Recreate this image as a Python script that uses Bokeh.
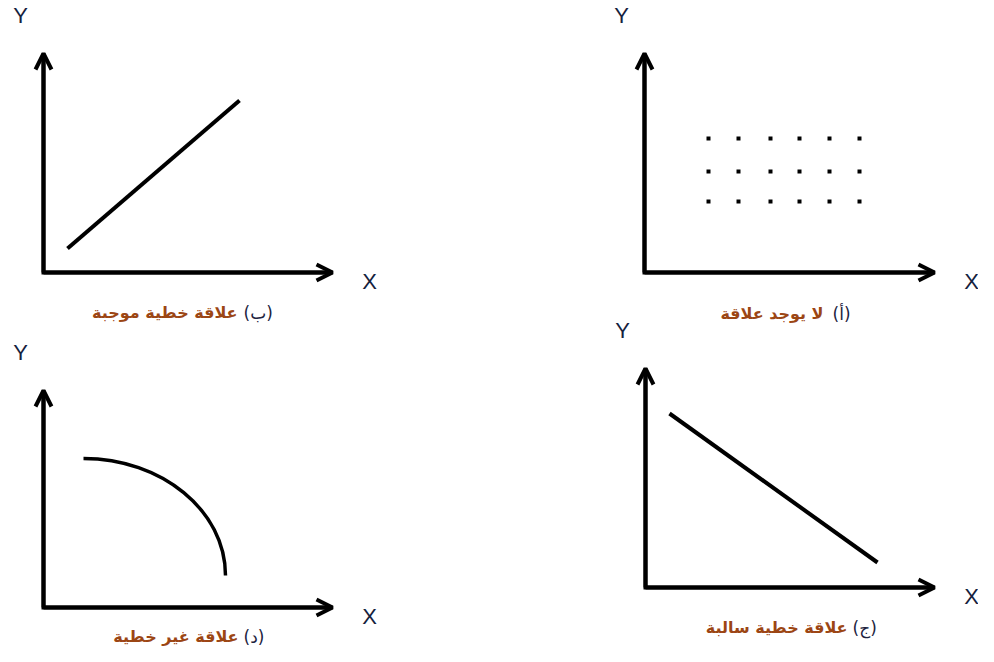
from bokeh.plotting import figure
from bokeh.models import Range1d, Arrow, OpenHead
from bokeh.core.properties import value
from bokeh.embed import file_html
from bokeh.resources import INLINE

# ---------------- data (panel-local units; origin = axes corner) ----------------
panels = ["A", "B", "C", "D"]            # A: no relation, B: positive, C: negative, D: non-linear
label_letters = ["(أ)", "(ب)", "(ج)", "(د)"]
label_texts = ["لا يوجد علاقة", "علاقة خطية موجبة", "علاقة خطية سالبة", "علاقة غير خطية"]

axis_x_len = [290, 289, 289, 289]
axis_y_len = [219, 219, 219, 217]

# (A) no relationship: grid of points
dots_x = [64, 94, 126, 155, 185, 215]
dots_y = [134, 101, 71]

# (B) positive linear
pos_x = [24, 196]
pos_y = [24, 172]

# (C) negative linear
neg_x = [24, 232]
neg_y = [174, 25]

# (D) non-linear curve (cubic bezier: start, control1, control2, end)
curve_x = [40, 118, 182, 182]
curve_y = [149, 149, 97, 32]

# ---------------- layout ----------------
W, H = 978, 646
origin_x = [644, 43, 645, 43]
origin_y = [374, 374, 59, 39]
label_split_l = [188, 200, 207, 200]   # left edge of letter label
label_split_r = [179, 194, 202, 195]   # right edge of text label
label_y = [-41, -40, -40, -29]

AX_W = 4
INK = "black"
BROWN = "#9c4614"
NAVY = "#1c2340"
LABEL_COLOR = "#14213d"

p = figure(width=W, height=H, output_backend="svg", toolbar_location=None,
           x_range=Range1d(0, W), y_range=Range1d(0, H),
           min_border=0, outline_line_color=None)
p.axis.visible = False
p.grid.visible = False
p.background_fill_color = "white"
p.border_fill_color = "white"

for i in range(4):
    ox, oy = origin_x[i], origin_y[i]
    lx, ly = axis_x_len[i], axis_y_len[i]
    # axes corner
    p.line([ox, ox, ox + lx], [oy + ly, oy, oy], line_width=AX_W, line_color=INK,
           line_join="miter")
    for (xs, ys, xe, ye) in [(ox, oy, ox, oy + ly), (ox, oy, ox + lx, oy)]:
        p.add_layout(Arrow(end=OpenHead(size=16, line_width=AX_W, line_color=INK),
                           x_start=xs, y_start=ys, x_end=xe, y_end=ye,
                           line_width=AX_W, line_color=INK))
    # axis names
    p.text([ox - 23], [oy + ly + 38], text=["Y"], text_font=value("Liberation Sans"),
           text_font_size="22px", text_color=LABEL_COLOR, text_align="center",
           text_baseline="middle")
    p.text([ox + lx + 37], [oy - 9], text=["X"], text_font=value("Liberation Sans"),
           text_font_size="22px", text_color=LABEL_COLOR, text_align="center",
           text_baseline="middle")
    # caption
    p.text([ox + label_split_r[i]], [oy + label_y[i]], text=[label_texts[i]],
           text_font=value("DejaVu Sans"), text_font_style="bold", text_font_size="16px",
           text_color=BROWN, text_align="right", text_baseline="middle")
    p.text([ox + label_split_l[i]], [oy + label_y[i]], text=[label_letters[i]],
           text_font=value("DejaVu Sans"), text_font_size="17px",
           text_color=NAVY, text_align="left", text_baseline="middle")

# (A) dots
ax, ay = origin_x[0], origin_y[0]
gx = [ax + x for y in dots_y for x in dots_x]
gy = [ay + y for y in dots_y for x in dots_x]
p.scatter(gx, gy, marker="square", size=4, fill_color=INK, line_color=None)

# (B) positive line
bx, by = origin_x[1], origin_y[1]
p.line([bx + v for v in pos_x], [by + v for v in pos_y], line_width=4, line_color=INK)

# (C) negative line
cx, cy = origin_x[2], origin_y[2]
p.line([cx + v for v in neg_x], [cy + v for v in neg_y], line_width=4, line_color=INK)

# (D) curve
dx, dy = origin_x[3], origin_y[3]
p.bezier(x0=[dx + curve_x[0]], y0=[dy + curve_y[0]],
         cx0=[dx + curve_x[1]], cy0=[dy + curve_y[1]],
         cx1=[dx + curve_x[2]], cy1=[dy + curve_y[2]],
         x1=[dx + curve_x[3]], y1=[dy + curve_y[3]],
         line_width=3.5, line_color=INK)

open("out.html", "w").write(file_html(p, INLINE))
